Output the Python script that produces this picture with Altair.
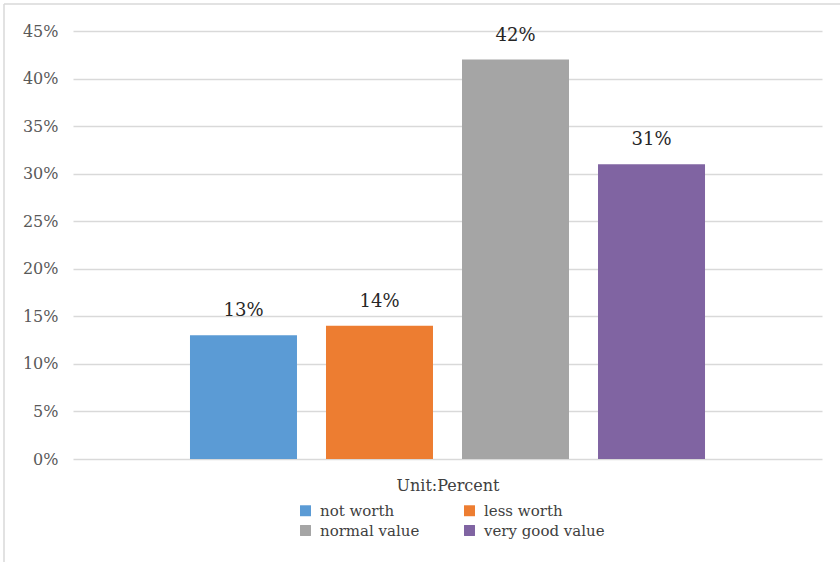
import altair as alt
import pandas as pd

# Survey answers and their shares
series = ["not worth", "less worth", "normal value", "very good value"]
shares = [0.13, 0.14, 0.42, 0.31]
colors = ["#5B9BD5", "#ED7D31", "#A5A5A5", "#8064A2"]

y_ticks = [0, 0.05, 0.10, 0.15, 0.20, 0.25, 0.30, 0.35, 0.40, 0.45]

df = pd.DataFrame({"series": series, "share": shares})

FONT = "DejaVu Serif"
W, H = 749, 428

x_enc = alt.X(
    "series:N",
    sort=series,
    scale=alt.Scale(paddingInner=0.213, paddingOuter=0.86),
    axis=alt.Axis(labels=False, ticks=False, domain=False, grid=False,
                  title="Unit:Percent", titleFont=FONT, titleFontSize=16,
                  titleFontWeight="normal", titleColor="#404040",
                  titlePadding=18),
)
y_enc = alt.Y(
    "share:Q",
    scale=alt.Scale(domain=[0, 0.45], nice=False),
    axis=alt.Axis(values=y_ticks, format=".0%", ticks=False, domain=False,
                  grid=True, gridColor="#D9D9D9", gridWidth=1.5,
                  labelFont=FONT, labelFontSize=16, labelColor="#595959",
                  labelPadding=15, title=None),
)

bars = alt.Chart(df).mark_bar(size=107).encode(
    x=x_enc,
    y=y_enc,
    color=alt.Color(
        "series:N",
        sort=series,
        scale=alt.Scale(domain=series, range=colors),
        legend=alt.Legend(
            title=None, orient="none", legendX=225, legendY=472,
            columns=2, direction="horizontal", columnPadding=42,
            rowPadding=4, symbolType="square", symbolSize=120,
            symbolStrokeWidth=0, labelFont=FONT, labelFontSize=15,
            labelColor="#404040", labelOffset=7,
        ),
    ),
)

labels = alt.Chart(df).mark_text(
    font=FONT, fontSize=18, color="#262626", baseline="alphabetic", dy=-19
).encode(
    x=alt.X("series:N", sort=series),
    y="share:Q",
    text=alt.Text("share:Q", format=".0%"),
)

# Chart-area frame (left and top edges)
frame_left = alt.Chart().mark_rule(color="#D9D9D9", strokeWidth=1.5).encode(
    x=alt.value(-69), y=alt.value(-27), y2=alt.value(H + 110)
)
frame_top = alt.Chart().mark_rule(color="#D9D9D9", strokeWidth=1.5).encode(
    x=alt.value(-69), x2=alt.value(W + 30), y=alt.value(-27)
)

chart = alt.layer(frame_left, frame_top, bars, labels).properties(
    width=W, height=H,
    background="white",
    autosize=alt.AutoSizeParams(type="none"),
    padding={"left": 73, "top": 31, "right": 18, "bottom": 103},
).configure_view(stroke=None)

chart.save("out.html", embed_options={"renderer": "svg", "actions": False})
